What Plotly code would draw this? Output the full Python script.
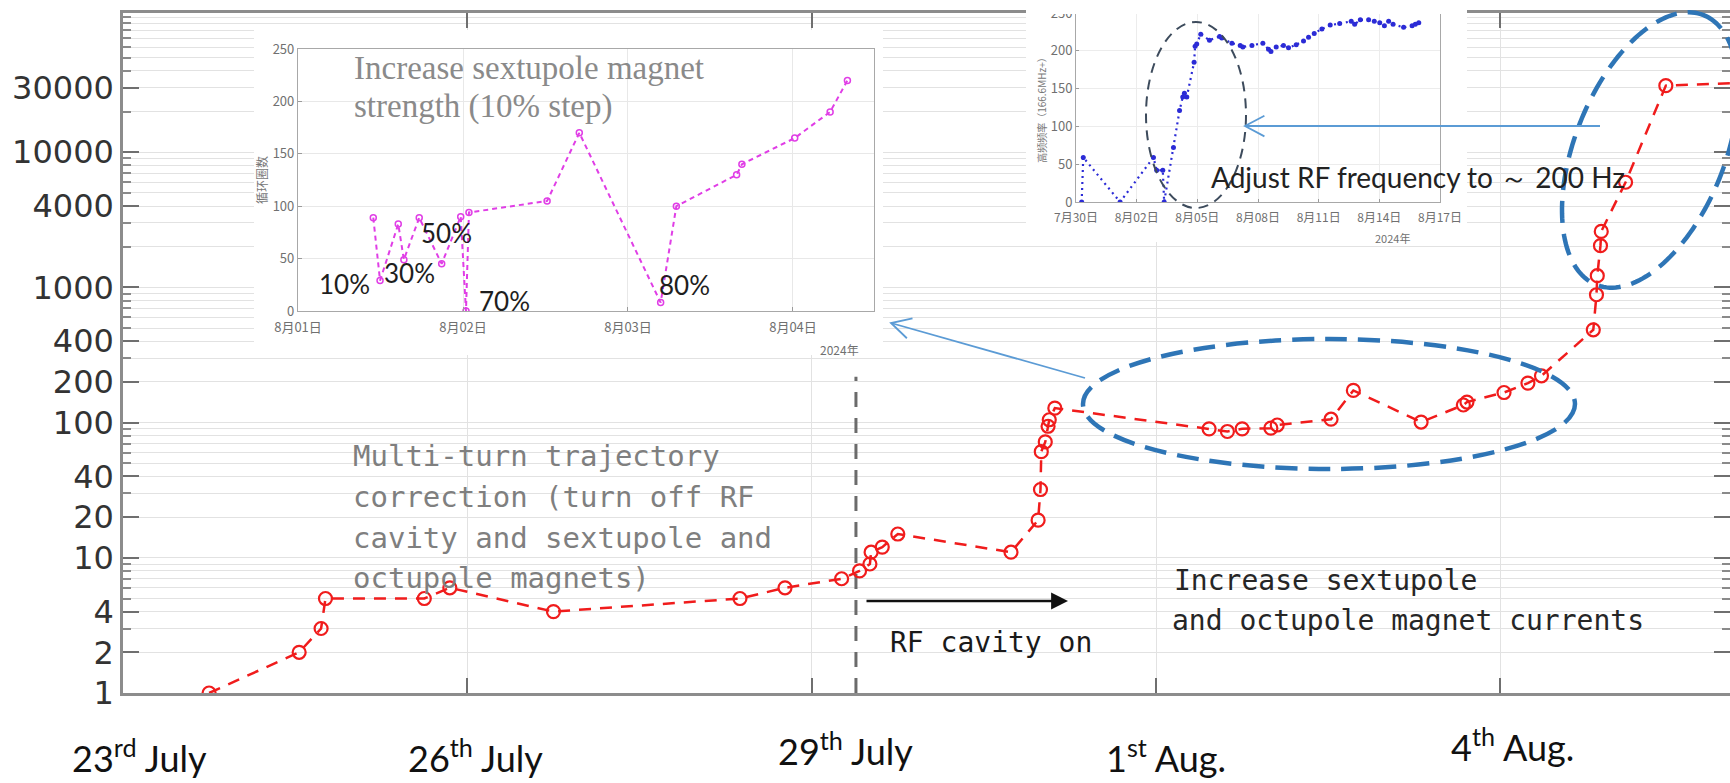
import numpy as np
import plotly.graph_objects as go

# ---------------------------------------------------------------- data
# Circulating turns recorded during commissioning (main panel, log scale)
turn_time = [
    "2024-07-23 18:00", "2024-07-24 12:50", "2024-07-24 17:25", "2024-07-24 18:20",
    "2024-07-25 15:00", "2024-07-25 20:20", "2024-07-26 18:00", "2024-07-28 09:00",
    "2024-07-28 18:25", "2024-07-29 06:15", "2024-07-29 10:00", "2024-07-29 12:10",
    "2024-07-29 12:25", "2024-07-29 14:45", "2024-07-29 18:00", "2024-07-30 17:40",
    "2024-07-30 23:20", "2024-07-30 23:50", "2024-07-31 00:00", "2024-07-31 00:50",
    "2024-07-31 01:25", "2024-07-31 01:40", "2024-07-31 02:50", "2024-08-01 11:05",
    "2024-08-01 14:55", "2024-08-01 18:00", "2024-08-02 00:00", "2024-08-02 01:20",
    "2024-08-02 12:35", "2024-08-02 17:15", "2024-08-03 07:25", "2024-08-03 16:15",
    "2024-08-03 17:00", "2024-08-04 00:45", "2024-08-04 05:45", "2024-08-04 08:35",
    "2024-08-04 19:25", "2024-08-04 20:05", "2024-08-04 20:15", "2024-08-04 20:55",
    "2024-08-04 21:05", "2024-08-05 02:10", "2024-08-05 10:35", "2024-08-06 06:00",
]
turn_count = [
    1, 2, 3, 5, 5, 6, 4, 5, 6, 7, 8, 9, 11, 12, 15, 11, 19, 32, 61, 72, 94, 105, 128,
    90, 86, 90, 91, 96, 106, 173, 101, 135, 142, 167, 196, 222,
    486, 883, 1221, 2036, 2596, 6000, 31100, 33000,
]

# RF cavity switched on
rf_on_time = "2024-07-29 09:15"
rf_on_span = [1, 218]

date_ticks = ["2024-07-23", "2024-07-26", "2024-07-29", "2024-08-01", "2024-08-04"]
date_labels = ["23<sup>rd</sup> July", "26<sup>th</sup> July", "29<sup>th</sup> July",
               "1<sup>st</sup> Aug.", "4<sup>th</sup> Aug."]
y_major = [1, 2, 4, 10, 20, 40, 100, 200, 400, 1000, 4000, 10000, 30000]

# Inset 1: sextupole strength scan (10% steps)
sext_time = [
    "2024-08-01 10:57", "2024-08-01 11:56", "2024-08-01 14:35", "2024-08-01 15:24",
    "2024-08-01 17:38", "2024-08-01 20:54", "2024-08-01 23:40", "2024-08-02 00:26",
    "2024-08-02 00:52", "2024-08-02 12:14", "2024-08-02 16:55", "2024-08-03 04:45",
    "2024-08-03 07:02", "2024-08-03 15:48", "2024-08-03 16:34", "2024-08-04 00:15",
    "2024-08-04 05:24", "2024-08-04 07:55",
]
sext_turns = [89, 29, 83, 49, 89, 45, 90, 0, 94, 105, 170, 8, 100, 130, 140, 165, 190, 220]
sext_ticks = ["2024-08-01", "2024-08-02", "2024-08-03", "2024-08-04"]
sext_tick_labels = ["8月01日", "8月02日", "8月03日", "8月04日"]
step_labels = ["10%", "30%", "50%", "70%", "80%"]

# Inset 2: RF frequency offset (166.6 MHz + Hz)
rf_time = [
    "2024-07-30 06:43", "2024-07-30 08:38", "2024-08-01 04:19", "2024-08-02 19:55",
    "2024-08-02 23:46", "2024-08-03 07:00", "2024-08-03 08:38", "2024-08-03 19:41",
    "2024-08-04 02:53", "2024-08-04 06:43", "2024-08-04 08:38", "2024-08-04 11:31",
    "2024-08-04 20:10", "2024-08-04 21:22", "2024-08-04 23:17", "2024-08-05 04:05",
    "2024-08-05 14:24", "2024-08-06 02:24", "2024-08-06 05:02", "2024-08-06 17:02",
    "2024-08-07 02:53", "2024-08-07 06:00", "2024-08-07 16:48", "2024-08-08 05:46",
    "2024-08-08 12:29", "2024-08-08 15:22", "2024-08-08 21:36", "2024-08-09 06:14",
    "2024-08-09 12:14", "2024-08-09 21:22", "2024-08-10 06:00", "2024-08-10 12:00",
    "2024-08-10 18:43", "2024-08-11 03:50", "2024-08-11 13:41", "2024-08-12 00:58",
    "2024-08-12 14:38", "2024-08-12 18:43", "2024-08-13 01:26", "2024-08-13 11:17",
    "2024-08-13 18:00", "2024-08-14 00:29", "2024-08-14 06:00", "2024-08-14 11:02",
    "2024-08-14 16:19", "2024-08-15 04:48", "2024-08-15 14:53", "2024-08-15 18:43",
    "2024-08-15 22:48",
]
rf_freq = [
    0, 59, 0, 59, 42, 42, 0, 72, 121, 139, 144, 139, 185, 206, 209, 222, 214, 219, 217,
    210, 207, 205, 207, 210, 202, 199, 205, 207, 204, 208, 213, 218, 223, 229, 234, 236,
    239, 235, 241, 241, 239, 237, 233, 239, 235, 231, 233, 235, 237,
]
rf_ticks = ["2024-07-30", "2024-08-02", "2024-08-05", "2024-08-08",
            "2024-08-11", "2024-08-14", "2024-08-17"]
rf_tick_labels = ["7月30日", "8月02日", "8月05日", "8月08日", "8月11日", "8月14日", "8月17日"]

# ---------------------------------------------------------------- geometry helpers
W, H = 1730, 783
ML, MR, MT, MB = 123, 0, 13, 90
PW, PH = W - ML - MR, H - MT - MB


def fx(x):
    """canvas pixel -> paper x"""
    return (x - ML) / PW


def fy(y):
    """canvas pixel -> paper y"""
    return (H - MB - y) / PH


def ellipse_path(cx, cy, a, b, ux, uy, n=160):
    """closed path of an ellipse given in canvas pixels, major axis along (ux, uy)"""
    t = np.linspace(0, 2 * np.pi, n)
    vx, vy = -uy, ux
    xs = cx + a * np.cos(t) * ux + b * np.sin(t) * vx
    ys = cy + a * np.cos(t) * uy + b * np.sin(t) * vy
    pts = [f"{fx(x):.5f},{fy(y):.5f}" for x, y in zip(xs, ys)]
    return "M " + " L ".join(pts) + " Z"


def open_head(tip, tail, length=22, half=28):
    """open 'V' arrow head at tip, canvas pixels"""
    dx, dy = tail[0] - tip[0], tail[1] - tip[1]
    ang = np.arctan2(dy, dx)
    h = np.radians(half)
    p1 = (tip[0] + length * np.cos(ang + h), tip[1] + length * np.sin(ang + h))
    p2 = (tip[0] + length * np.cos(ang - h), tip[1] + length * np.sin(ang - h))
    return (f"M {fx(p1[0]):.5f},{fy(p1[1]):.5f} L {fx(tip[0]):.5f},{fy(tip[1]):.5f} "
            f"L {fx(p2[0]):.5f},{fy(p2[1]):.5f}")


RED = "#f01c1c"
GRID = "#e2e2e2"
AXIS = "#8c8c8c"
BLUE = "#2e75b6"
LIGHTBLUE = "#5b9bd5"
MONO = "DejaVu Sans Mono"

fig = go.Figure()

# ---------------------------------------------------------------- main panel
fig.add_trace(go.Scatter(
    x=[rf_on_time, rf_on_time], y=rf_on_span, mode="lines",
    line=dict(color="#6b6b6b", width=3, dash="15px,11px"),
    hoverinfo="skip", showlegend=False))
fig.add_trace(go.Scatter(
    x=turn_time, y=turn_count, mode="lines+markers",
    line=dict(color=RED, width=2.5, dash="12px,9px"),
    marker=dict(symbol="circle-open", size=13, color=RED, line=dict(width=2.2)),
    showlegend=False))

# white cards behind the two insets (own subplots so they sit above the main grid)
for ax in ("2", "4"):
    fig.add_trace(go.Scatter(x=[], y=[], xaxis="x" + ax, yaxis="y" + ax,
                             showlegend=False, hoverinfo="skip"))

# ---------------------------------------------------------------- inset 1
fig.add_trace(go.Scatter(
    x=sext_time, y=sext_turns, xaxis="x3", yaxis="y3", mode="lines+markers",
    line=dict(color="#e03ee6", width=2, dash="5px,4px"),
    marker=dict(symbol="circle-open", size=6, color="#e03ee6", line=dict(width=1.5)),
    showlegend=False))

# ---------------------------------------------------------------- inset 2
fig.add_trace(go.Scatter(
    x=rf_time, y=rf_freq, xaxis="x5", yaxis="y5", mode="lines+markers",
    line=dict(color="#2b2bd6", width=2.2, dash="2px,4px"),
    marker=dict(symbol="circle", size=5, color="#2b2bd6"),
    showlegend=False))

minor_vals = [k * 10 ** n for n in range(0, 6) for k in range(1, 10) if k * 10 ** n <= 1.1e5]

inset_tick_font = dict(family="Noto Sans CJK SC", size=13, color="#707070")

fig.update_layout(
    template="none",
    width=W, height=H, autosize=False,
    margin=dict(l=ML, r=MR, t=MT, b=MB, pad=0, autoexpand=False),
    paper_bgcolor="white", plot_bgcolor="white",
    showlegend=False,
    xaxis=dict(
        type="date", range=["2024-07-23", "2024-08-06"], automargin=False,
        tickmode="array", tickvals=date_ticks, showticklabels=False,
        ticks="inside", ticklen=15, tickwidth=1.5, tickcolor="#6f6f6f",
        showgrid=True, gridcolor=GRID, gridwidth=1,
        showline=True, linecolor=AXIS, linewidth=2.5, mirror="ticks", zeroline=False,
    ),
    yaxis=dict(
        type="log", range=[0, 5.03], automargin=False,
        tickmode="array", tickvals=y_major, ticktext=[str(v) for v in y_major],
        tickfont=dict(family="DejaVu Sans", size=32, color="#333333"),
        ticks="inside", ticklen=16, tickwidth=1.5, tickcolor="#6f6f6f",
        showgrid=True, gridcolor=GRID, gridwidth=1,
        minor=dict(tickmode="array", tickvals=minor_vals, ticks="inside", ticklen=8,
                   tickcolor="#8a8a8a", showgrid=True, gridcolor=GRID, gridwidth=1),
        showline=True, linecolor=AXIS, linewidth=2.5, mirror="ticks", zeroline=False,
    ),
    xaxis2=dict(domain=[fx(254), fx(883)], anchor="y2", range=[0, 1], visible=False),
    yaxis2=dict(domain=[fy(355), fy(30)], anchor="x2", range=[0, 1], visible=False),
    xaxis3=dict(
        domain=[fx(298), fx(874)], anchor="y3", type="date", automargin=False,
        range=["2024-08-01 00:00", "2024-08-04 11:47"],
        tickmode="array", tickvals=sext_ticks, ticktext=sext_tick_labels,
        tickfont=inset_tick_font, ticklabelstandoff=4,
        ticks="inside", ticklen=4, tickcolor="#9a9a9a",
        showgrid=True, gridcolor="#e8e8e8",
        showline=True, linecolor="#a8a8a8", linewidth=1.2, mirror=True, zeroline=False,
    ),
    yaxis3=dict(
        domain=[fy(311), fy(49)], anchor="x3", range=[0, 250], automargin=False,
        tickmode="array", tickvals=[0, 50, 100, 150, 200, 250],
        tickfont=inset_tick_font, ticks="inside", ticklen=4, tickcolor="#9a9a9a",
        showgrid=True, gridcolor="#e8e8e8",
        showline=True, linecolor="#a8a8a8", linewidth=1.2, mirror=True, zeroline=False,
        title=dict(text="循环圈数", font=dict(family="Noto Sans CJK SC", size=12,
                                              color="#777777"), standoff=2),
    ),
    xaxis4=dict(domain=[fx(1026), fx(1467)], anchor="y4", range=[0, 1], visible=False),
    yaxis4=dict(domain=[fy(242), 1.0], anchor="x4", range=[0, 1], visible=False),
    xaxis5=dict(
        domain=[fx(1076), fx(1440)], anchor="y5", type="date", automargin=False,
        range=["2024-07-30", "2024-08-17"],
        tickmode="array", tickvals=rf_ticks, ticktext=rf_tick_labels,
        tickfont=dict(family="Noto Sans CJK SC", size=12, color="#707070"),
        ticklabelstandoff=5,
        ticks="inside", ticklen=3, tickcolor="#9a9a9a",
        showgrid=True, gridcolor="#ececec",
        showline=True, linecolor="#a8a8a8", linewidth=1, mirror=True, zeroline=False,
    ),
    yaxis5=dict(
        domain=[fy(202), fy(13)], anchor="x5", range=[0, 250], automargin=False,
        tickmode="array", tickvals=[0, 50, 100, 150, 200, 250],
        tickfont=dict(family="Noto Sans CJK SC", size=13, color="#707070"),
        ticks="inside", ticklen=3, tickcolor="#9a9a9a",
        showgrid=True, gridcolor="#ececec",
        showline=True, linecolor="#a8a8a8", linewidth=1, mirror=True, zeroline=False,
        title=dict(text="高频频率（166.6MHz+）",
                   font=dict(family="Noto Sans CJK SC", size=10, color="#777777"),
                   standoff=2),
    ),
)

# ---------------------------------------------------------------- annotations
ann = []

# date labels under the main axis
label_shift = [16, 8, 34, 10, 12]
label_y = [756, 756, 749, 756, 745]
for d, t, dx, yy in zip(date_ticks, date_labels, label_shift, label_y):
    ann.append(dict(x=d, xref="x", y=fy(yy), yref="paper", text=t, showarrow=False,
                    xshift=dx, yanchor="middle",
                    font=dict(family="Lato", size=36, color="#111111")))

# annotation text in the main panel
multi_lines = ["Multi-turn trajectory", "correction (turn off RF",
               "cavity and sextupole and", "octupole magnets)"]
for line, yy in zip(multi_lines, [456, 497, 538, 578]):
    ann.append(dict(x=fx(351), y=fy(yy), xref="paper", yref="paper", text=line,
                    showarrow=False, xanchor="left", yanchor="middle",
                    font=dict(family=MONO, size=29, color="#7f7f7f")))

ann.append(dict(x=fx(888), y=fy(642), xref="paper", yref="paper", text="RF cavity on",
                showarrow=False, xanchor="left", yanchor="middle",
                font=dict(family=MONO, size=28, color="#1a1a1a")))
for line, x0, yy in zip(["Increase sextupole", "and octupole magnet currents"],
                        [1172, 1170], [580, 620]):
    ann.append(dict(x=fx(x0), y=fy(yy), xref="paper", yref="paper", text=line,
                    showarrow=False, xanchor="left", yanchor="middle",
                    font=dict(family=MONO, size=28, color="#262626")))

# RF-on arrow
ann.append(dict(x=fx(1068), y=fy(601), xref="paper", yref="paper", text="",
                showarrow=True, ax=-203, ay=0, arrowhead=2, arrowsize=1.3,
                arrowwidth=2.6, arrowcolor="#111111"))

ann.append(dict(x=fx(1209), y=fy(177), xref="paper", yref="paper",
                text="Adjust RF frequency to ～ 200 Hz", showarrow=False,
                xanchor="left", yanchor="middle",
                font=dict(family="Lato", size=28, color="#222222")))

# inset 1 title and step labels
for line, yy in zip(["Increase sextupole magnet", "strength (10% step)"], [68, 107]):
    ann.append(dict(x=fx(352), y=fy(yy), xref="paper", yref="paper", text=line,
                    showarrow=False, xanchor="left", yanchor="middle",
                    font=dict(family="Liberation Serif", size=33, color="#8a8a8a")))

step_pos = [("2024-08-01 06:45", 26), ("2024-08-01 16:15", 36), ("2024-08-01 21:40", 74),
            ("2024-08-02 06:05", 10), ("2024-08-03 08:15", 25)]
for lab, (t, v) in zip(step_labels, step_pos):
    ann.append(dict(x=t, y=v, xref="x3", yref="y3", text=lab, showarrow=False,
                    font=dict(family="Lato", size=26, color="#1e1e1e")))

ann.append(dict(x=fx(839), y=fy(349), xref="paper", yref="paper", text="2024年",
                showarrow=False, font=dict(family="Noto Sans CJK SC", size=12, color="#707070")))
ann.append(dict(x=fx(1412), y=fy(228), xref="paper", yref="paper", text="2024年",
                showarrow=False, font=dict(family="Noto Sans CJK SC", size=11, color="#707070")))

fig.update_layout(annotations=ann)

# ---------------------------------------------------------------- shapes
shapes = []
# strip above inset 2 hides the top frame where the inset sits
shapes.append(dict(type="rect", xref="paper", yref="paper", x0=fx(1026), x1=fx(1467),
                   y0=fy(14), y1=fy(-2), fillcolor="white", line=dict(width=0)))
# ellipse around the plateau (1-4 Aug)
shapes.append(dict(type="circle", xref="paper", yref="paper",
                   x0=fx(1083), x1=fx(1575), y0=fy(469), y1=fy(339),
                   line=dict(color=BLUE, width=4.5, dash="22px,11px")))
# tilted ellipse around the final rise
shapes.append(dict(type="path", xref="paper", yref="paper",
                   path=ellipse_path(1650, 150, 145, 75, 0.37, -0.93),
                   line=dict(color=BLUE, width=4.5, dash="22px,11px")))
# ellipse inside inset 2
shapes.append(dict(type="circle", xref="paper", yref="paper",
                   x0=fx(1146), x1=fx(1246), y0=fy(208), y1=fy(22),
                   line=dict(color="#3d4b5c", width=2, dash="10px,7px")))
# pointer arrows to the insets
for tail, tip in [((1085, 378), (891, 323)), ((1600, 126), (1245, 126))]:
    shapes.append(dict(type="line", xref="paper", yref="paper",
                       x0=fx(tail[0]), y0=fy(tail[1]), x1=fx(tip[0]), y1=fy(tip[1]),
                       line=dict(color=LIGHTBLUE, width=1.8)))
    shapes.append(dict(type="path", xref="paper", yref="paper",
                       path=open_head(tip, tail), line=dict(color=LIGHTBLUE, width=1.8)))

fig.update_layout(shapes=shapes)

fig.write_html("out.html", config={"responsive": False})
